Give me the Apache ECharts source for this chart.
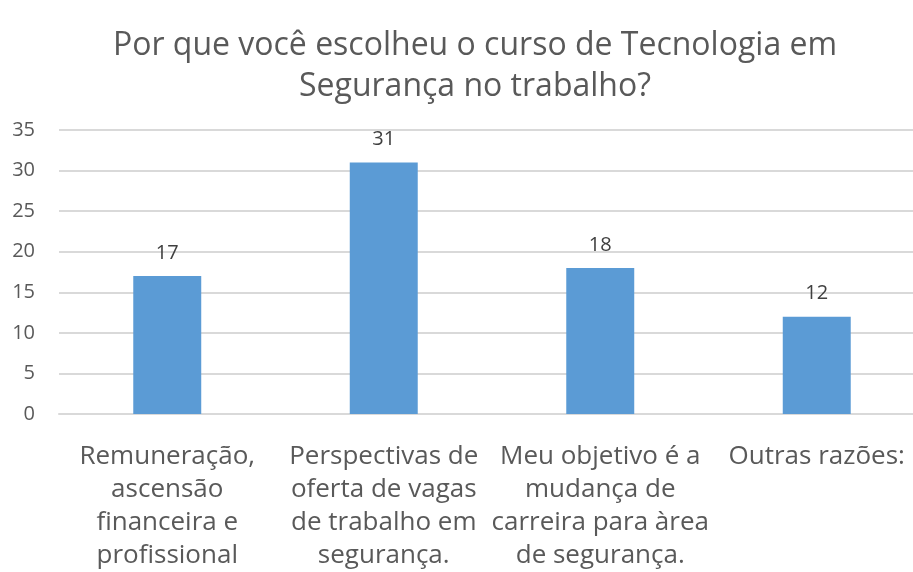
<!DOCTYPE html>
<html>
<head>
<meta charset="utf-8">
<script src="https://cdn.jsdelivr.net/npm/echarts@6/dist/echarts.min.js"></script>
<style>
  html, body { margin: 0; padding: 0; background: #fff; }
  #main { width: 913px; height: 572px; }
</style>
</head>
<body>
<div id="main"></div>
<script>
var categories = [
  'Remuneração,\nascensão\nfinanceira e\nprofissional',
  'Perspectivas de\noferta de vagas\nde trabalho em\nsegurança.',
  'Meu objetivo é a\nmudança de\ncarreira para àrea\nde segurança.',
  'Outras razões:'
];
var values = [17, 31, 18, 12];
var yTicks = [0, 5, 10, 15, 20, 25, 30, 35];

var chart = echarts.init(document.getElementById('main'));

var option = {
  animation: false,
  textStyle: { fontFamily: 'Open Sans' },
  title: {
    text: 'Por que você escolheu o curso de Tecnologia em\nSegurança no trabalho?',
    left: 470,
    top: 20,
    textAlign: 'center',
    textStyle: {
      fontFamily: 'Open Sans',
      fontSize: 32,
      fontWeight: 'normal',
      color: '#595959',
      lineHeight: 41
    }
  },
  grid: {
    left: 59,
    right: -12,
    top: 130,
    bottom: 158,
    containLabel: false,
    outerBoundsMode: 'none'
  },
  xAxis: {
    type: 'category',
    data: categories,
    axisLine: { show: true, lineStyle: { color: '#d9d9d9', width: 2 } },
    axisTick: { show: false },
    axisLabel: {
      interval: 0,
      margin: 26,
      fontSize: 26,
      lineHeight: 33,
      color: '#595959',
      fontFamily: 'Open Sans'
    }
  },
  yAxis: {
    type: 'value',
    min: yTicks[0],
    max: yTicks[yTicks.length - 1],
    interval: 5,
    axisLine: { show: false },
    axisTick: { show: false },
    splitLine: { lineStyle: { color: '#d9d9d9', width: 2 } },
    axisLabel: {
      fontSize: 20,
      color: '#595959',
      margin: 24,
      fontFamily: 'Open Sans'
    }
  },
  series: [
    {
      type: 'bar',
      data: values,
      barWidth: '31.4%',
      itemStyle: { color: '#5b9bd5' },
      label: {
        show: true,
        position: 'top',
        distance: 13,
        fontSize: 20,
        color: '#404040',
        fontFamily: 'Open Sans'
      }
    }
  ]
};

chart.setOption(option);
</script>
</body>
</html>
